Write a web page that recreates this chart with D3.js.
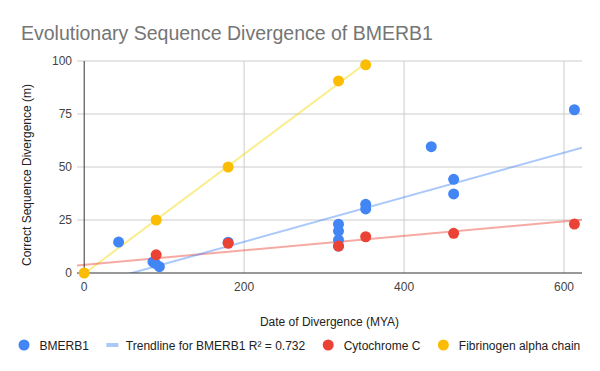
<!DOCTYPE html>
<html>
<head>
<meta charset="utf-8">
<script src="https://cdn.jsdelivr.net/npm/d3@7"></script>
<style>
  body { margin: 0; background: #fff; }
  text { font-family: "Liberation Sans", Arial, sans-serif; }
</style>
</head>
<body>
<svg id="chart" width="600" height="371"></svg>
<script>
// data (x = date of divergence in MYA, y = divergence)
const bmerbX = [43, 86, 89, 94, 180, 318, 318, 318, 318, 352, 352, 434, 462, 462, 613];
const bmerbY = [14.6, 5.2, 4.5, 3, 14.5, 23, 19.8, 15.6, 12.7, 32.4, 30.2, 59.6, 44.2, 37.3, 77];
const cytoX = [90, 180, 318, 352, 462, 613];
const cytoY = [8.6, 14, 12.7, 17.1, 18.7, 23.1];
const fibX = [0, 90, 180, 318, 352];
const fibY = [0, 25, 50, 90.6, 98.2];

// trendlines as slope / intercept
const bmerbTrend = [0.105, -6.25];
const cytoTrend = [0.034, 3.9];
const fibTrend = [0.282, -0.3];

const xTicks = [0, 200, 400, 600];
const yTicks = [0, 25, 50, 75, 100];

const legendNames = ["BMERB1", "Trendline for BMERB1 R² = 0.732", "Cytochrome C", "Fibrinogen alpha chain"];

const blue = "#4285f4", red = "#ea4335", yellow = "#fbbc04";

const svg = d3.select("#chart");
const areaL = 77, areaR = 582, areaT = 61, areaB = 273;

const x = d3.scaleLinear().domain([-9, 622.5]).range([areaL, areaR]);
const y = d3.scaleLinear().domain([0, 100]).range([areaB, areaT]);

// title
svg.append("text")
  .attr("x", 21).attr("y", 40)
  .attr("fill", "#757575")
  .attr("font-size", 19.5)
  .text("Evolutionary Sequence Divergence of BMERB1");

// gridlines
const grid = svg.append("g");
grid.selectAll(".hg").data(yTicks.filter(d => d != 0)).enter().append("line")
  .attr("x1", areaL).attr("x2", areaR)
  .attr("y1", d => y(d)).attr("y2", d => y(d))
  .attr("stroke", "#cccccc").attr("stroke-width", 1);
grid.selectAll(".vg").data(xTicks.filter(d => d != 0)).enter().append("line")
  .attr("x1", d => x(d)).attr("x2", d => x(d))
  .attr("y1", areaT).attr("y2", areaB)
  .attr("stroke", "#cccccc").attr("stroke-width", 1);

// tick labels
svg.selectAll(".yt").data(yTicks).enter().append("text")
  .attr("x", 72).attr("y", d => y(d) + 4)
  .attr("text-anchor", "end")
  .attr("fill", "#444")
  .attr("font-size", 12)
  .text(d => d);
svg.selectAll(".xt").data(xTicks).enter().append("text")
  .attr("x", d => x(d)).attr("y", 291)
  .attr("text-anchor", "middle")
  .attr("fill", "#444")
  .attr("font-size", 12)
  .text(d => d);

// clip for the trendlines
svg.append("clipPath").attr("id", "area")
  .append("rect").attr("x", areaL).attr("y", areaT)
  .attr("width", areaR - areaL).attr("height", areaB - areaT);

function drawTrend(coef, color) {
  const xs = x.domain();
  svg.append("line")
    .attr("clip-path", "url(#area)")
    .attr("x1", x(xs[0])).attr("y1", y(coef[0] * xs[0] + coef[1]))
    .attr("x2", x(xs[1])).attr("y2", y(coef[0] * xs[1] + coef[1]))
    .attr("stroke", color)
    .attr("stroke-opacity", 0.45)
    .attr("stroke-width", 2);
}
drawTrend(fibTrend, "#f5d800");
drawTrend(cytoTrend, red);
drawTrend(bmerbTrend, blue);

// baselines
svg.append("line")
  .attr("x1", areaL).attr("x2", areaR)
  .attr("y1", y(0)).attr("y2", y(0))
  .attr("stroke", "#333").attr("stroke-width", 1);
svg.append("line")
  .attr("x1", x(0)).attr("x2", x(0))
  .attr("y1", areaT).attr("y2", areaB)
  .attr("stroke", "#333").attr("stroke-width", 1);

function drawPoints(xs, ys, color) {
  svg.append("g").selectAll("circle").data(xs).enter().append("circle")
    .attr("cx", d => x(d))
    .attr("cy", (d, i) => y(ys[i]))
    .attr("r", 5.5)
    .attr("fill", color);
}
drawPoints(bmerbX, bmerbY, blue);
drawPoints(cytoX, cytoY, red);
drawPoints(fibX, fibY, yellow);

// axis titles
svg.append("text")
  .attr("x", (areaL + areaR) / 2).attr("y", 326)
  .attr("text-anchor", "middle")
  .attr("fill", "#222")
  .attr("font-size", 12)
  .text("Date of Divergence (MYA)");
svg.append("text")
  .attr("transform", "translate(31,175) rotate(-90)")
  .attr("text-anchor", "middle")
  .attr("fill", "#222")
  .attr("font-size", 12)
  .text("Correct Sequence Divergence (m)");

// legend
const legendColors = [blue, blue, red, yellow];
let lx = 18.5;
const ly = 345;
legendNames.forEach((name, i) => {
  let tx;
  if (i == 1) {
    svg.append("line")
      .attr("x1", lx).attr("x2", lx + 12)
      .attr("y1", ly).attr("y2", ly)
      .attr("stroke", blue).attr("stroke-opacity", 0.45)
      .attr("stroke-width", 4);
    tx = lx + 19.5;
  } else {
    svg.append("circle")
      .attr("cx", lx + 5.5).attr("cy", ly).attr("r", 5.5)
      .attr("fill", legendColors[i]);
    tx = lx + 21;
  }
  const t = svg.append("text")
    .attr("x", tx).attr("y", ly + 4.5)
    .attr("fill", "#222")
    .attr("font-size", 12)
    .text(name);
  lx = tx + t.node().getComputedTextLength() + 17.5;
});
</script>
</body>
</html>
